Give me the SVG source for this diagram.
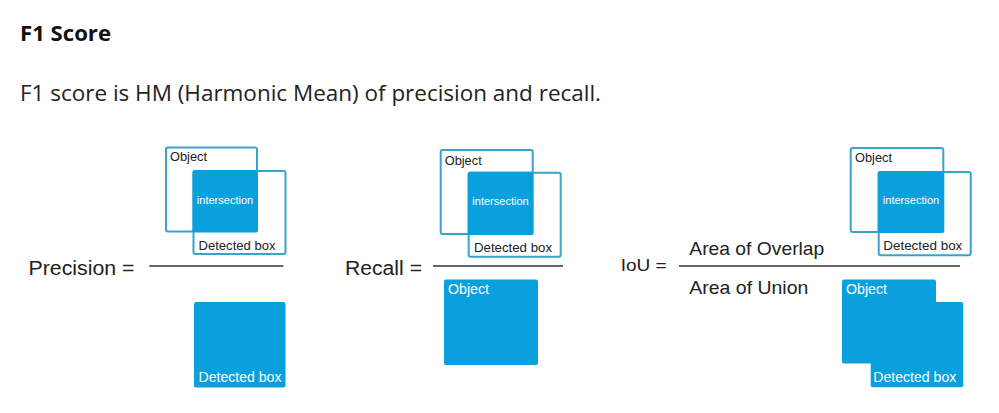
<svg xmlns="http://www.w3.org/2000/svg" width="999" height="413" viewBox="0 0 999 413">
<style>
.bg{fill:#ffffff}
.h{font-family:"Open Sans","DejaVu Sans",sans-serif;font-weight:700;font-size:22px;fill:#111}
.p{font-family:"Open Sans","DejaVu Sans",sans-serif;font-size:22px;fill:#222}
.f{font-family:"Liberation Sans",Arial,sans-serif;font-size:20px;fill:#222}
.fs{font-family:"Liberation Sans",Arial,sans-serif;font-size:19px;fill:#222}
.out{fill:#ffffff;stroke:#38a4c8;stroke-width:2}
.fill{fill:#0aa0dd}
.lbl{font-family:"Liberation Sans",Arial,sans-serif;font-size:13px;fill:#222}
.int{font-family:"Liberation Sans",Arial,sans-serif;font-size:11px;fill:#ffffff;text-anchor:middle}
.wl{font-family:"Liberation Sans",Arial,sans-serif;font-size:14px;fill:#ffffff}
.bar{stroke:#333;stroke-width:1.6}
</style>
<rect class="bg" x="0" y="0" width="999" height="413"/>
<g id="header">
<text class="h" x="20" y="41" textLength="91" lengthAdjust="spacingAndGlyphs">F1 Score</text>
<text class="p" x="20" y="101" textLength="581" lengthAdjust="spacingAndGlyphs">F1 score is HM (Harmonic Mean) of precision and recall.</text>
</g>
<g id="precision">
<text class="f" x="28.5" y="275" textLength="106" lengthAdjust="spacingAndGlyphs">Precision =</text>
<rect class="out" x="166" y="147.5" width="91" height="84" rx="2"/>
<rect class="out" x="193.5" y="171" width="92" height="83" rx="2"/>
<rect class="fill" x="192.5" y="170" width="65.5" height="62.5" rx="2"/>
<text class="lbl" x="170" y="161" textLength="37" lengthAdjust="spacingAndGlyphs">Object</text>
<text class="int" x="225" y="204">intersection</text>
<text class="lbl" x="198.5" y="250" textLength="77" lengthAdjust="spacingAndGlyphs">Detected box</text>
<rect class="fill" x="194" y="302" width="91.5" height="85.5" rx="2"/>
<text class="wl" x="198.5" y="382" textLength="83" lengthAdjust="spacingAndGlyphs">Detected box</text>
</g>
<g id="recall">
<text class="f" x="345" y="275" textLength="77" lengthAdjust="spacingAndGlyphs">Recall =</text>
<rect class="out" x="440.7" y="150" width="92" height="84" rx="2"/>
<rect class="out" x="468.7" y="172.7" width="92" height="84" rx="2"/>
<rect class="fill" x="467.7" y="171.7" width="66" height="63.3" rx="2"/>
<text class="lbl" x="444.7" y="164.5" textLength="37" lengthAdjust="spacingAndGlyphs">Object</text>
<text class="int" x="500.5" y="205">intersection</text>
<text class="lbl" x="474" y="251.5" textLength="78" lengthAdjust="spacingAndGlyphs">Detected box</text>
<rect class="fill" x="444" y="279.5" width="94" height="85.5" rx="2"/>
<text class="wl" x="448" y="293.5" textLength="41" lengthAdjust="spacingAndGlyphs">Object</text>
</g>
<g id="iou">
<text class="f" x="620.7" y="271" textLength="46" lengthAdjust="spacingAndGlyphs" style="font-size:17px">IoU =</text>
<text class="fs" x="689.3" y="254.7" textLength="135" lengthAdjust="spacingAndGlyphs">Area of Overlap</text>
<text class="fs" x="689.3" y="294" textLength="119" lengthAdjust="spacingAndGlyphs">Area of Union</text>
<rect class="out" x="850.7" y="148" width="92.6" height="84" rx="2"/>
<rect class="out" x="878.7" y="172" width="92" height="83.3" rx="2"/>
<rect class="fill" x="877.7" y="171" width="66.6" height="62" rx="2"/>
<text class="lbl" x="855" y="162" textLength="37" lengthAdjust="spacingAndGlyphs">Object</text>
<text class="int" x="911" y="203.5">intersection</text>
<text class="lbl" x="883.3" y="250" textLength="79" lengthAdjust="spacingAndGlyphs">Detected box</text>
<rect class="fill" x="842" y="279.5" width="94" height="84" rx="2"/>
<rect class="fill" x="870.7" y="302" width="92.6" height="85.3" rx="2"/>
<text class="wl" x="846" y="294" textLength="41" lengthAdjust="spacingAndGlyphs">Object</text>
<text class="wl" x="873.3" y="382" textLength="83" lengthAdjust="spacingAndGlyphs">Detected box</text>
</g>
<g id="connectors">
<line class="bar" x1="149.3" y1="266" x2="283.3" y2="266"/>
<line class="bar" x1="433" y1="266" x2="563" y2="266"/>
<line class="bar" x1="679" y1="266" x2="960" y2="266"/>
</g>
</svg>
